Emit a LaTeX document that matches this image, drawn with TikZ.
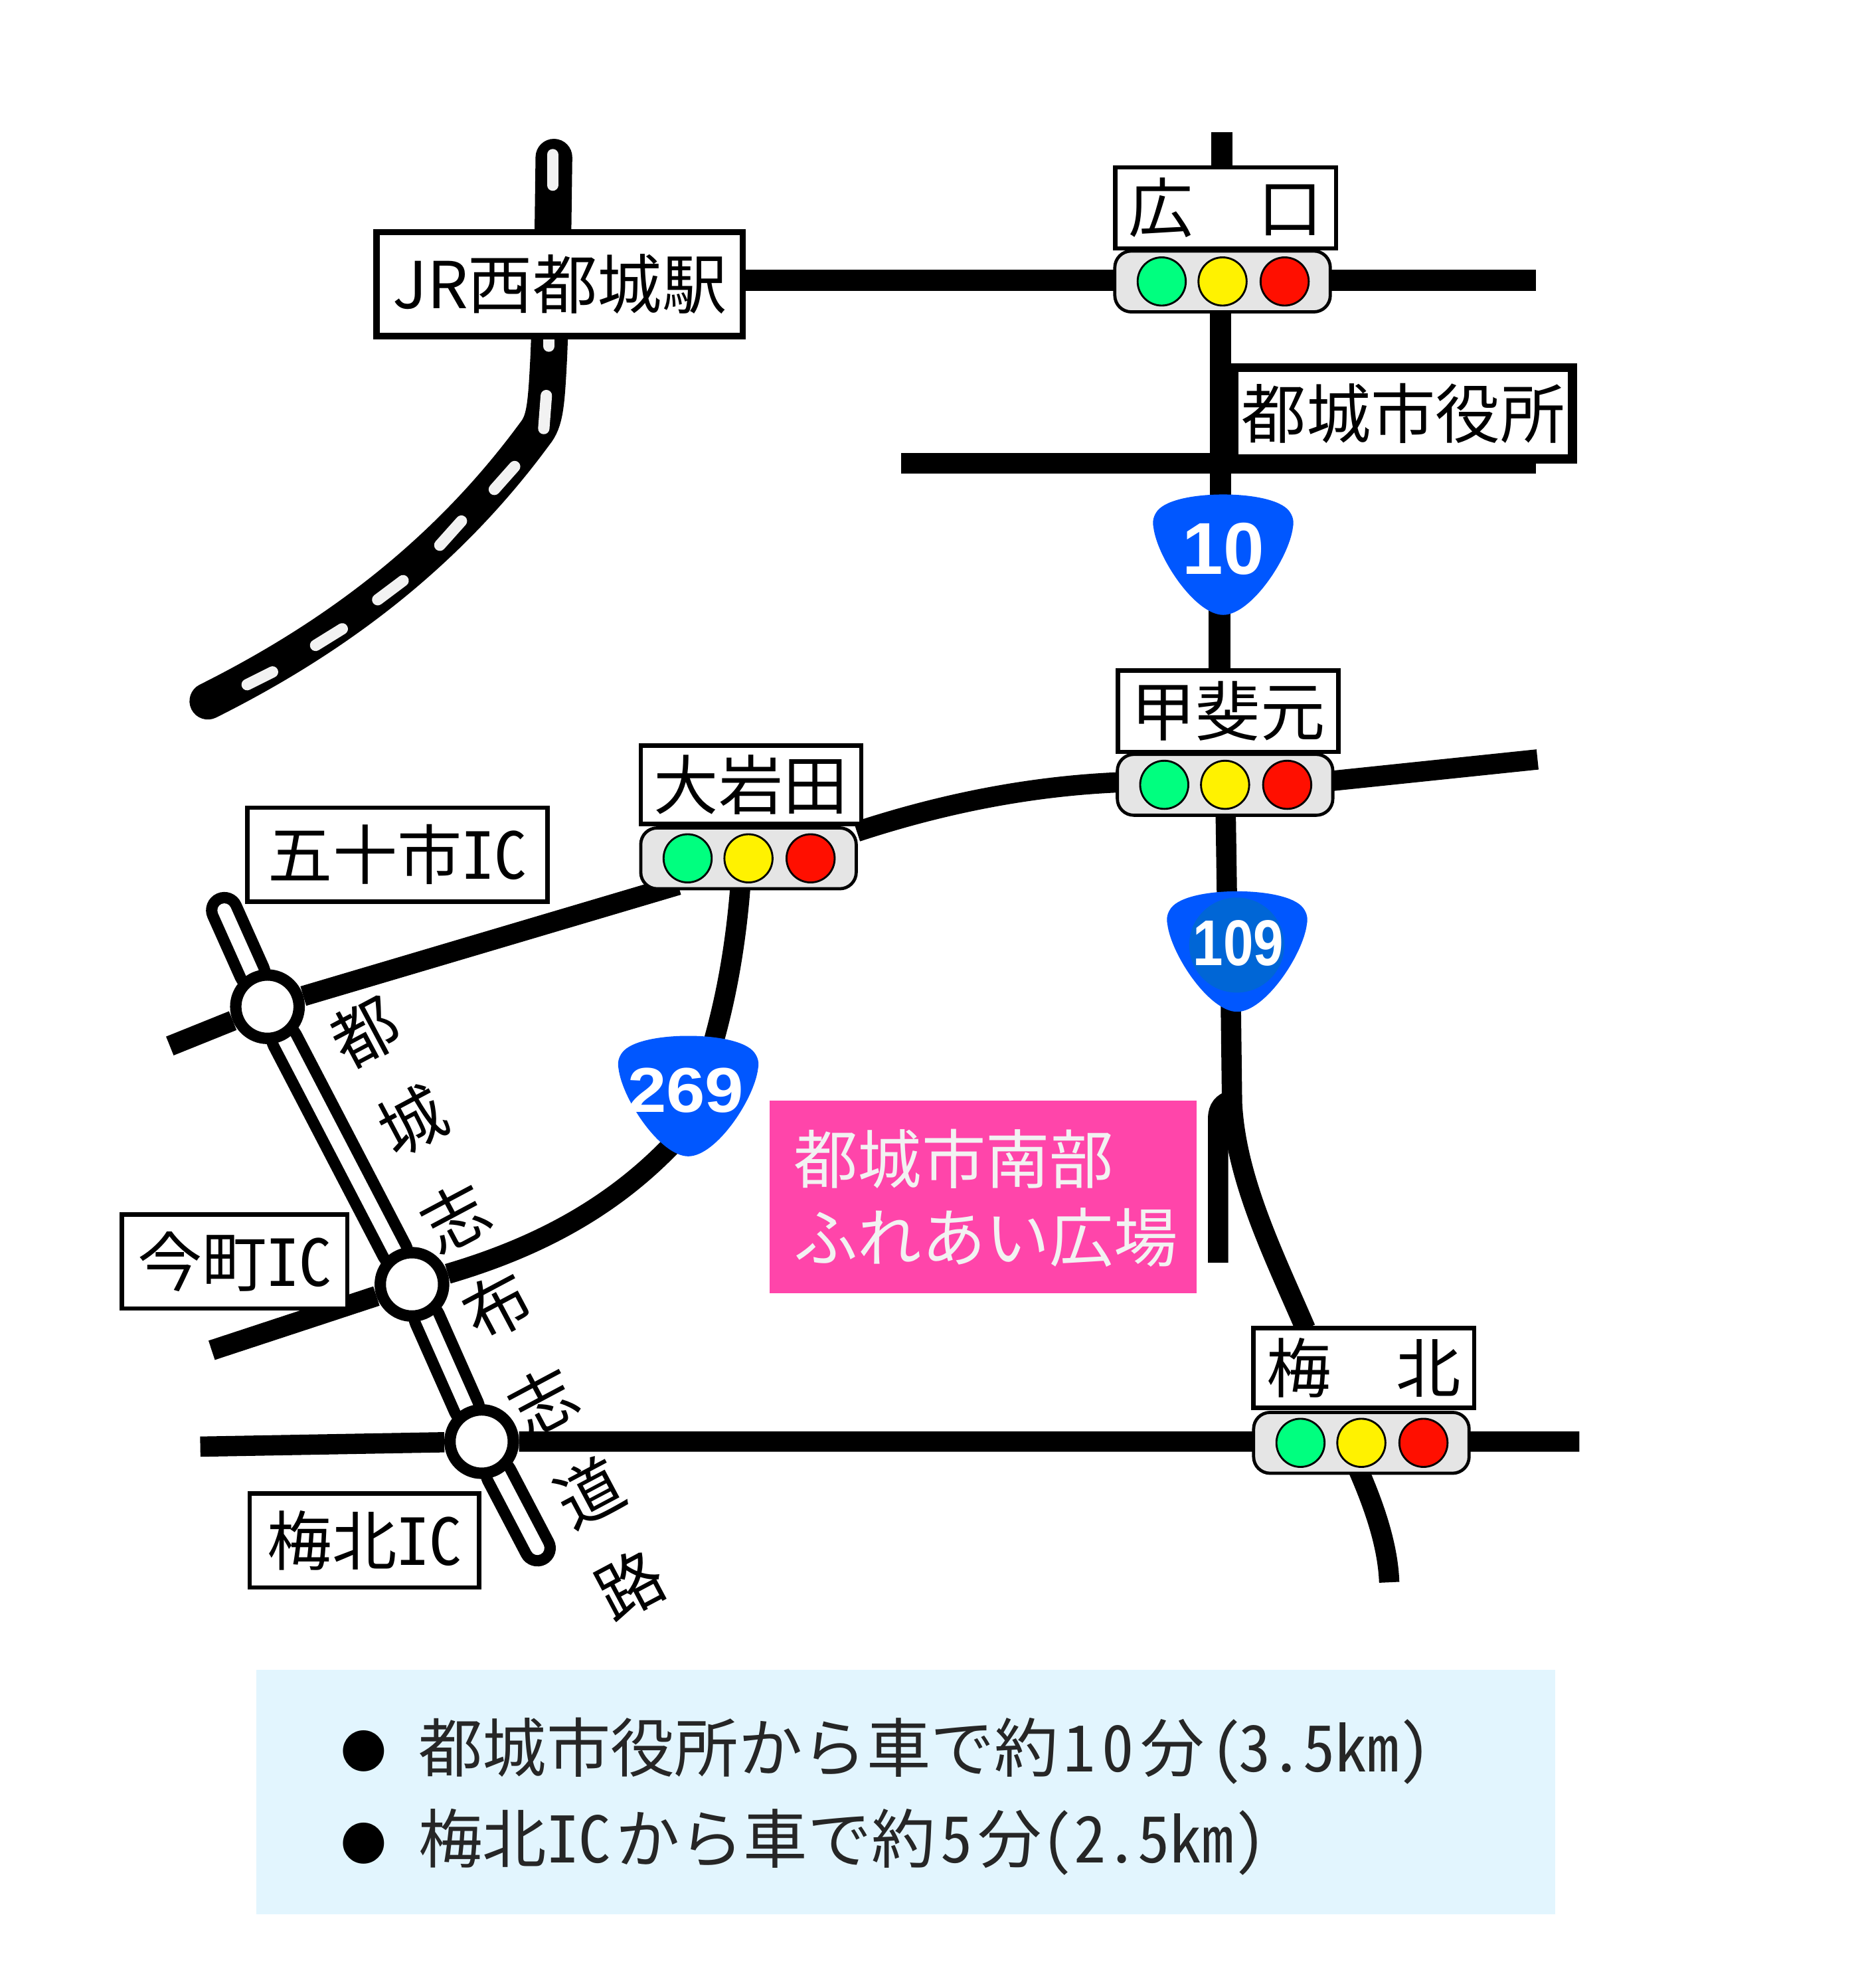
\documentclass[tikz,border=0pt]{standalone}
\usepackage{fontspec}
\setmainfont{Noto Sans CJK JP}[CharacterWidth=Half]
\newfontfamily\wideface{Noto Sans CJK JP}
\newfontfamily\shieldfont{Liberation Sans}
\usepackage{xcolor}
\usetikzlibrary{backgrounds}
\definecolor{shieldblue}{HTML}{0057FF}
\definecolor{shieldinner}{HTML}{0066D6}
\definecolor{plazapink}{HTML}{FF45AA}
\definecolor{notebg}{HTML}{E2F5FE}
\definecolor{lampgreen}{HTML}{00FF7F}
\definecolor{lampred}{HTML}{FF0F00}
\newcommand{\fs}[1]{\fontsize{#1}{#1}\selectfont}

\begin{document}
\begin{tikzpicture}[
    x=1pt, y=-1pt,
    road/.style={line width=16pt},
    signbox/.style={rectangle, draw, fill=white, line width=3.5pt, inner sep=0pt, font=\fs{51}},
    signal/.pic={
        \node[rectangle, draw, fill=black!10, line width=2.5pt, rounded corners=13pt, minimum width=170pt, minimum height=48pt] {};
        \node[lamp, fill=lampgreen] at (-48,0) {};
        \node[lamp, fill=yellow] at (0,0) {};
        \node[lamp, fill=lampred] at (49,0) {};
    },
    lamp/.style={circle, draw, line width=1.5pt, inner sep=0pt, minimum size=38pt},
    shield/.pic={
        \fill[shieldblue] (0,0) .. controls (22,0) and (45,4) .. (52,13) .. controls (55,17) and (56,21) .. (55,26)
            .. controls (52,50) and (22,95) .. (0,95) .. controls (-22,95) and (-52,50) .. (-55,26)
            .. controls (-56,21) and (-55,17) .. (-52,13) .. controls (-45,4) and (-22,0) .. (0,0) -- cycle;
    },
    shieldno/.style={text=white, inner sep=0pt, font={\shieldfont\bfseries\fs{#1}}},
    icring/.style={circle, draw, fill=white, line width=9pt, inner sep=0pt, minimum size=50pt},
    along/.style={rotate=28, inner sep=0pt, font=\fs{52}}
]
\useasboundingbox (0,0) rectangle (1467,1568);

% Signs on the roads
\node[signbox] (jr) at (441.5,224) [minimum width=289pt, minimum height=82pt, line width=5pt] {\wideface JR西都城駅};
\node[signbox] (hiroguchi) at (967,164) [minimum width=174pt, minimum height=64pt] {\wideface 広　口};
\node[signbox] (cityhall) at (1107,326) [minimum width=267pt, minimum height=72pt, line width=7pt] {都城市役所};
\node[signbox] (kaimoto) at (969,561) [minimum width=174pt, minimum height=64pt] {甲斐元};
\node[signbox] (oiwata) at (592.5,619) [minimum width=174pt, minimum height=62pt] {大岩田};
\node[signbox] (umekita) at (1076,1079) [minimum width=174pt, minimum height=63pt] {\wideface 梅　北};
\node[signbox] (isoichi) at (313.5,674) [minimum width=237pt, minimum height=74pt] {五十市IC};
\node[signbox] (imamachi) at (185,995) [minimum width=178pt, minimum height=74pt] {今町IC};
\node[signbox] (umekitaic) at (287.5,1215) [minimum width=181pt, minimum height=74pt] {梅北IC};

% Signals
\pic at (964.5,222) {signal};
\pic at (966.5,619) {signal};
\pic at (590.5,677) {signal};
\pic at (1074,1138) {signal};

% Route shields
\pic at (965,390) {shield};
\node[shieldno=58] (r10) at (965,433) {10};
\pic at (976,703) {shield};
\node[circle, fill=shieldinner, inner sep=0pt, minimum size=75pt] (r109disc) at (975.7,745.4) {};
\node[shieldno=51, xscale=.84, transform shape] (r109) at (977,744) {109};
\pic at (543,817) {shield};
\node[shieldno=50, xscale=1.1, transform shape] (r269) at (541,860) {269};

% Interchanges
\node[icring] (ic1) at (211,794) {};
\node[icring] (ic2) at (325,1013) {};
\node[icring] (ic3) at (380,1137) {};
\coordinate (exptop) at (177,718);
\coordinate (expend) at (424,1221);

% Expressway name
\node[along] (e1) at (288,814) {都};
\node[along] (e2) at (325,884) {城};
\node[along] (e3) at (359,960) {志};
\node[along] (e4) at (392,1030) {布};
\node[along] (e5) at (428,1105) {志};
\node[along] (e6) at (465,1177) {道};
\node[along] (e7) at (497,1250) {路};

% Plaza
\node[rectangle, fill=plazapink, minimum width=337pt, minimum height=152pt] (plaza) at (775.5,944) {};
\node[anchor=west, inner sep=0pt, text=white!95!black, align=left, font=\fs{50.5}] (plazatext) at (626,945) {都城市南部\\[11.5pt]ふれあい広場};

% Access notes
\node[rectangle, fill=notebg, minimum width=1025pt, minimum height=193pt] (note) at (714.5,1413.5) {};
\node[inner sep=0pt, font=\fs{36}] (dot1) at (287,1381) {●};
\node[inner sep=0pt, font=\fs{36}] (dot2) at (287,1454) {●};
\node[anchor=west, inner sep=0pt, text=black!85, font=\fs{50.5}] (note1) at (330,1381) {都城市役所から車で約\kern4pt 1\kern5pt 0\kern5pt 分\kern5pt(\kern-3pt 3.5㎞)};
\node[anchor=west, inner sep=0pt, text=black!85, font=\fs{50.5}] (note2) at (330,1453) {梅北IC\kern4pt から車で約\kern4pt 5\kern4pt 分(2.5㎞)};

% Roads go under everything
\begin{scope}[on background layer]
\fill[white] (0,0) rectangle (1467,1568);

% Railway
\draw[line width=29pt, line cap=round] (437,124) -- (436,200) -- (433,280) .. controls (431,320) and (430,332) .. (422,342)
    .. controls (350,440) and (260,505) .. (164,553);
\foreach \ax/\ay/\bx/\by in {436/122/436/146, 433/268/433/273, 431/312/429/338, 406/368/390/386, 364/411/347/430, 318/458/298/473, 270/496/249/509, 215/530/195/540}
    \draw[line width=9pt, line cap=round, white!95!black] (\ax,\ay) -- (\bx,\by);

% National roads
\coordinate (hiroroad) at (964,221);
\draw[road, line width=17pt] (jr.east |- hiroroad) -- (hiroroad) -- (1212,221);
\draw[road, line width=17pt] (964,104) -- (964,140);
\draw[road, line width=17pt] (963,240) -- (963,400);
\draw[road, line width=17pt] (962,470) -- (962,535);
\draw[road] (711,365.5) -- (1212,365.5);
\draw[road] (676,656) .. controls (740,635) and (810,620) .. (884,617);
\draw[road] (1050,616) -- (1213,599);
\draw[road] (967,643) -- (968,710);
\draw[road] (971,790) -- (972,870) .. controls (975,930) and (1005,990) .. (1030,1048);
\draw[road] (961,996) -- (961,882) .. controls (961,874) and (965,870) .. (971,868);
\draw[road] (584,700) .. controls (580,750) and (572,790) .. (562,825);
\draw[road] (530,903) .. controls (480,955) and (420,985) .. (ic2);
\draw[road] (ic2) -- (167,1065);
\draw[road] (535,698) -- (ic1) -- (134,825);
\draw[road] (158,1141) -- (ic3) -- (1246,1137);
\draw[road] (1072,1160) .. controls (1085,1190) and (1095,1220) .. (1096,1248);

% Expressway
\draw[line width=29pt, line cap=round] (exptop) -- (ic1) -- (ic2) -- (ic3) -- (expend);
\draw[line width=11pt, line cap=round, white] (exptop) -- (ic1) -- (ic2) -- (ic3) -- (expend);
\end{scope}

\end{tikzpicture}
\end{document}
